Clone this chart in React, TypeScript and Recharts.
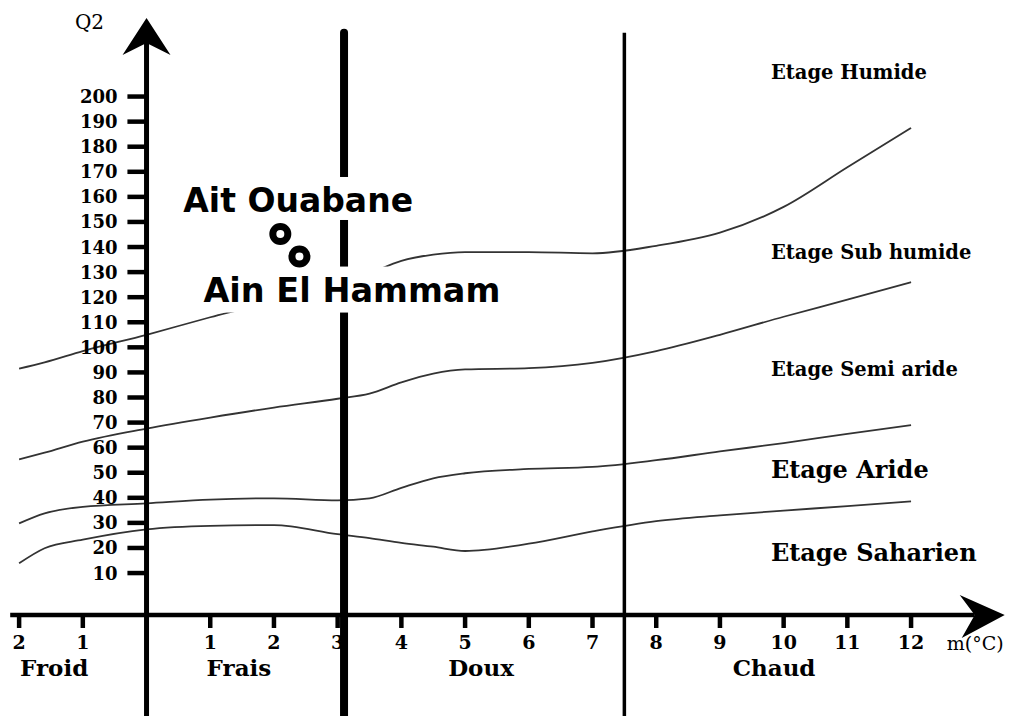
import React from "react";
import { ComposedChart, Line, Scatter, XAxis, YAxis, ReferenceLine, ReferenceDot } from "recharts";

// m (°C) at which the limits between the bioclimatic stages were read
const mValues = [-2, -1.6, -1, 0, 1, 2, 3, 3.5, 4, 4.5, 5, 6, 7, 8, 9, 10, 11, 12];
// Q2 of each limit curve
const limitHumide = [91.5, 94, 98.5, 105, 112, 118.5, 125, 129.5, 134.5, 137, 138, 138, 137.5, 140.5, 145.7, 156, 171.8, 187.5];
const limitSubHumide = [55.3, 58, 62.4, 67.6, 72, 76, 79.5, 81.5, 86, 89.5, 91.2, 91.7, 93.8, 98.5, 105, 112.2, 119, 126];
const limitSemiAride = [29.8, 33.8, 36.4, 37.8, 39.3, 39.8, 39.0, 39.8, 44, 47.8, 49.8, 51.5, 52.3, 55, 58.5, 61.8, 65.5, 69];
const limitAride = [13.9, 19.9, 23.3, 27.4, 28.8, 29.1, 25.5, 23.9, 22, 20.5, 18.8, 21.7, 26.6, 30.7, 33, 34.9, 36.7, 38.6];

const stationNames = ["Ait Ouabane", "Ain El Hammam"];
const stationM = [2.1, 2.4];
const stationQ2 = [145.2, 136.2];

const q2Ticks = [10, 20, 30, 40, 50, 60, 70, 80, 90, 100, 110, 120, 130, 140, 150, 160, 170, 180, 190, 200];
const mTicks = [-2, -1, 1, 2, 3, 4, 5, 6, 7, 8, 9, 10, 11, 12];

const zoneLimits = [3.1, 7.5];
const zoneNames = ["Froid", "Frais", "Doux", "Chaud"];
const zoneCenters = [-1.45, 1.45, 5.25, 9.85];

const etageNames = ["Etage Humide", "Etage Sub humide", "Etage Semi aride", "Etage Aride", "Etage Saharien"];
const etageQ2 = [209.7, 137.7, 91, 51.1, 18];

// layout
const W = 1013;
const H = 716;
const X_DOMAIN: [number, number] = [-2.3, 13.6];
const Y_DOMAIN: [number, number] = [-47, 238.5];
const AXIS_Q = -6.7;
const Y_ARROW_Q = 231.3;
const Y_LINE_TOP = 221.5;
const X_AXIS_START = -2.14;
const X_ARROW_M = 13.47;
const X_LINE_END = 13.0;
const LIMIT_TOP_Q = 225.4;
const ZONE_LABEL_Q = -27.8;
const ETAGE_LABEL_M = 9.8;

const SERIF = "'DejaVu Serif', serif";
const SANS = "'DejaVu Sans', sans-serif";
const etageSizes = [19.5, 19.5, 19.5, 24, 24];
const zoneWidths = [8, 3.5];
const stationLabelStyle = [
  { dx: -97, dy: -33, size: 33, boxW: 245, boxTop: -24, boxH: 43 },
  { dx: -96, dy: 34, size: 33.5, boxW: 305, boxTop: -24, boxH: 46 },
];

const curveData = mValues.map((m, i) => ({
  m,
  humide: limitHumide[i],
  subHumide: limitSubHumide[i],
  semiAride: limitSemiAride[i],
  aride: limitAride[i],
}));

const stationData = stationNames.map((name, i) => ({ name, m: stationM[i], q2: stationQ2[i] }));

type TextOpts = { dx?: number; dy?: number; anchor?: "start" | "middle" | "end"; size: number; family?: string; weight?: string | number };

function textAt(text: string, o: TextOpts) {
  return (p: any) => (
    <text
      x={p.cx + (o.dx ?? 0)}
      y={p.cy + (o.dy ?? 0)}
      textAnchor={o.anchor ?? "middle"}
      dominantBaseline="central"
      fontFamily={o.family ?? SERIF}
      fontSize={o.size}
      fontWeight={o.weight ?? "bold"}
      fill="#000"
    >
      {text}
    </text>
  );
}

const upArrow = (p: any) => (
  <polygon
    points={`${p.cx},${p.cy} ${p.cx + 24},${p.cy + 37} ${p.cx},${p.cy + 25} ${p.cx - 24},${p.cy + 37}`}
    fill="#000"
  />
);

const rightArrow = (p: any) => (
  <polygon
    points={`${p.cx},${p.cy} ${p.cx - 45},${p.cy - 20} ${p.cx - 30},${p.cy} ${p.cx - 43},${p.cy + 23}`}
    fill="#000"
  />
);

function stationLabel(name: string, i: number) {
  const s = stationLabelStyle[i];
  return (p: any) => (
    <g>
      <rect x={p.cx + s.dx - 3} y={p.cy + s.dy + s.boxTop} width={s.boxW} height={s.boxH} fill="#fff" />
      <text
        x={p.cx + s.dx}
        y={p.cy + s.dy}
        dominantBaseline="central"
        fontFamily={SANS}
        fontWeight="bold"
        fontSize={s.size}
        fill="#000"
      >
        {name}
      </text>
    </g>
  );
}

const ringShape = (p: any) => <circle cx={p.cx} cy={p.cy} r={7.5} fill="#fff" stroke="#000" strokeWidth={7} />;

export default function App() {
  return (
    <div style={{ position: "absolute", left: 0, top: 0, width: W, height: H, background: "#fff" }}>
      <ComposedChart width={W} height={H} data={curveData} margin={{ top: 0, right: 0, bottom: 0, left: 0 }}>
        <XAxis type="number" dataKey="m" domain={X_DOMAIN} allowDataOverflow hide height={0} />
        <YAxis type="number" domain={Y_DOMAIN} allowDataOverflow hide width={0} />

        {["humide", "subHumide", "semiAride", "aride"].map((k) => (
          <Line
            key={k}
            type="monotone"
            dataKey={k}
            stroke="#333"
            strokeWidth={1.8}
            dot={false}
            activeDot={false}
            isAnimationActive={false}
            zIndex={400}
          />
        ))}

        {zoneLimits.map((m, i) => (
          <ReferenceLine
            key={`zone-${m}`}
            segment={[{ x: m, y: LIMIT_TOP_Q }, { x: m, y: Y_DOMAIN[0] }]}
            stroke="#000"
            strokeWidth={zoneWidths[i]}
            strokeLinecap={i === 0 ? "round" : "butt"}
            ifOverflow="visible"
            zIndex={450}
          />
        ))}

        {/* axes */}
        <ReferenceLine
          segment={[{ x: 0, y: Y_LINE_TOP }, { x: 0, y: Y_DOMAIN[0] }]}
          stroke="#000"
          strokeWidth={5}
          ifOverflow="visible"
          zIndex={500}
        />
        <ReferenceLine
          segment={[{ x: X_AXIS_START, y: AXIS_Q }, { x: X_LINE_END, y: AXIS_Q }]}
          stroke="#000"
          strokeWidth={4.5}
          ifOverflow="visible"
          zIndex={500}
        />
        <ReferenceDot x={0} y={Y_ARROW_Q} r={0} shape={upArrow} ifOverflow="visible" zIndex={500} />
        <ReferenceDot x={X_ARROW_M} y={AXIS_Q} r={0} shape={rightArrow} ifOverflow="visible" zIndex={500} />

        {q2Ticks.map((v) => (
          <ReferenceLine
            key={`yt-${v}`}
            segment={[{ x: -0.3, y: v }, { x: 0, y: v }]}
            stroke="#000"
            strokeWidth={4.5}
            ifOverflow="visible"
            zIndex={500}
          />
        ))}
        {q2Ticks.map((v) => (
          <ReferenceDot
            key={`yl-${v}`}
            x={0}
            y={v}
            r={0}
            ifOverflow="visible"
            zIndex={900}
            shape={textAt(String(v), { dx: -29, anchor: "end", size: 18 })}
          />
        ))}
        {mTicks.map((v) => (
          <ReferenceLine
            key={`xt-${v}`}
            segment={[{ x: v, y: AXIS_Q }, { x: v, y: AXIS_Q - 5.2 }]}
            stroke="#000"
            strokeWidth={4.5}
            ifOverflow="visible"
            zIndex={500}
          />
        ))}
        {mTicks.map((v) => (
          <ReferenceDot
            key={`xl-${v}`}
            x={v}
            y={AXIS_Q}
            r={0}
            ifOverflow="visible"
            zIndex={900}
            shape={textAt(String(Math.abs(v)), { dy: 27, size: 19 })}
          />
        ))}

        <ReferenceDot
          x={0}
          y={Y_ARROW_Q}
          r={0}
          ifOverflow="visible"
          zIndex={900}
          shape={textAt("Q2", { dx: -57, dy: 4, size: 20, weight: "normal" })}
        />
        <ReferenceDot
          x={X_ARROW_M}
          y={AXIS_Q}
          r={0}
          ifOverflow="visible"
          zIndex={900}
          shape={textAt("m(°C)", { dx: -58, dy: 28, anchor: "start", size: 19, weight: "normal" })}
        />

        {zoneNames.map((name, i) => (
          <ReferenceDot
            key={name}
            x={zoneCenters[i]}
            y={ZONE_LABEL_Q}
            r={0}
            ifOverflow="visible"
            zIndex={900}
            shape={textAt(name, { size: 23 })}
          />
        ))}

        {etageNames.map((name, i) => (
          <ReferenceDot
            key={name}
            x={ETAGE_LABEL_M}
            y={etageQ2[i]}
            r={0}
            ifOverflow="visible"
            zIndex={900}
            shape={textAt(name, { anchor: "start", size: etageSizes[i] })}
          />
        ))}

        {stationData.map((s, i) => (
          <ReferenceDot
            key={s.name}
            x={s.m}
            y={s.q2}
            r={0}
            ifOverflow="visible"
            zIndex={700}
            shape={stationLabel(s.name, i)}
          />
        ))}

        <Scatter data={stationData} dataKey="q2" shape={ringShape} isAnimationActive={false} zIndex={800} />
      </ComposedChart>
    </div>
  );
}
